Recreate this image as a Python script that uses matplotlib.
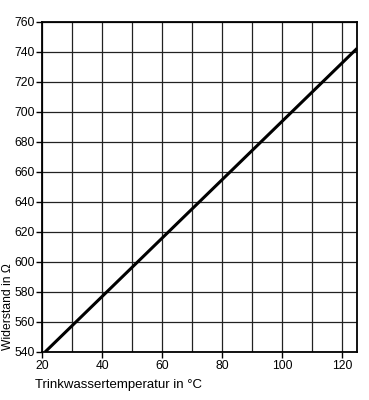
import matplotlib
matplotlib.use("Agg")
import matplotlib.pyplot as plt
from matplotlib.ticker import MultipleLocator

plt.rcParams['font.family'] = ['Liberation Sans', 'DejaVu Sans']

# values
temperatur = [21, 125]        # Trinkwassertemperatur in °C
widerstand = [540, 742.5]     # Widerstand in Ohm
x_ticks = [20, 40, 60, 80, 100, 120]
y_ticks = [540, 560, 580, 600, 620, 640, 660, 680, 700, 720, 740, 760]

fig = plt.figure(figsize=(3.69, 4.0), dpi=100)
ax = fig.add_axes([0.114, 0.12, 0.854, 0.825])

ax.plot(temperatur, widerstand, color='black', linewidth=2.2, solid_capstyle='butt')

ax.set_xlim(20, 125)
ax.set_ylim(540, 760)
ax.set_xticks(x_ticks)
ax.set_yticks(y_ticks)
ax.xaxis.set_minor_locator(MultipleLocator(10))

ax.grid(which='both', axis='x', color='#222222', linewidth=0.9)
ax.grid(which='major', axis='y', color='#222222', linewidth=0.9)
ax.set_axisbelow(True)

for s in ax.spines.values():
    s.set_linewidth(1.3)

ax.tick_params(axis='both', which='major', direction='out', length=4, width=1,
               labelsize=8.7, colors='black', pad=1.5)
ax.tick_params(axis='x', which='minor', length=0)

# axis titles placed like in the scan
fig.text(0.022, 0.125, 'Widerstand in Ω', fontsize=8.7, rotation=90,
         ha='center', va='bottom')
fig.text(0.095, 0.037, 'Trinkwassertemperatur in °C', fontsize=9.5,
         ha='left', va='center')

fig.savefig('out.png', dpi=100)
